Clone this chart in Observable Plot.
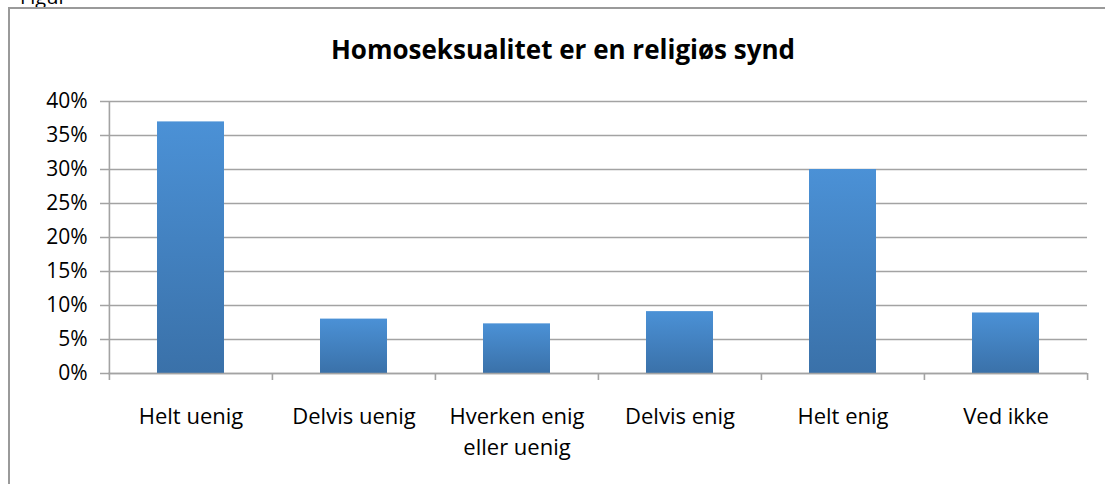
<!DOCTYPE html>
<html><head><meta charset="utf-8">
<script src="https://cdn.jsdelivr.net/npm/d3@7"></script>
<script src="https://cdn.jsdelivr.net/npm/@observablehq/plot@0.6"></script>
<style>
html,body{margin:0;padding:0;background:#fff;overflow:hidden;width:1105px;height:484px;}
#wrap{position:relative;width:1105px;height:484px;font-family:"Open Sans",Lato,sans-serif;}
#box{position:absolute;left:8px;top:7px;width:1110px;height:490px;border:2px solid #9a9a9a;box-sizing:border-box;}
#fig{position:absolute;left:20px;top:-17px;font-size:20px;color:#000;}
#title{position:absolute;left:8px;width:1110px;top:31px;text-align:center;font-weight:bold;font-size:26px;color:#000;}
#chart{position:absolute;left:0;top:0;}
</style></head>
<body><div id="wrap"><div id="fig">Figur</div><div id="box"></div><div id="title">Homoseksualitet er en religiøs synd</div><div id="chart"></div></div>
<script>
const categories = ["Helt uenig","Delvis uenig","Hverken enig\neller uenig","Delvis enig","Helt enig","Ved ikke"];
const values = [0.37, 0.08, 0.073, 0.091, 0.30, 0.089];
const yTicks = [0,0.05,0.10,0.15,0.20,0.25,0.30,0.35,0.40];
const data = categories.map((c,i)=>({cat:c, v:values[i]}));

const W=1105, H=484, mL=108, mR=18, mT=101, mB=111;
const step=(W-mL-mR)/categories.length;
const gray="#a3a3a3";

const plot = Plot.plot({
  width:W, height:H, marginLeft:mL, marginRight:mR, marginTop:mT, marginBottom:mB,
  style:{fontFamily:"'Open Sans', Lato, sans-serif", fontSize:"20px", color:"#000", background:"transparent", overflow:"visible"},
  x:{domain:categories, paddingInner:0.59, paddingOuter:0.295, label:null},
  y:{domain:[0,0.4], label:null},
  marks:[
    Plot.gridY(yTicks, {stroke:gray, strokeOpacity:1, strokeWidth:1.6, insetLeft:-8}),
    Plot.barY(data, {x:"cat", y:"v", fill:"url(#barGrad)", style:"filter:drop-shadow(1px 1px 2px rgba(0,0,0,0.25))"}),
    Plot.ruleX([categories[0]], {x:d=>d, y1:0, y2:0.4, dx:-step/2, stroke:gray, strokeWidth:1.6}),
    Plot.ruleY([0], {stroke:gray, strokeWidth:1.6}),
    Plot.ruleX(categories, {x:d=>d, y1:0, y2:0, dx:-step/2, insetBottom:-7, stroke:gray, strokeWidth:1.6}),
    Plot.ruleX([categories[categories.length-1]], {x:d=>d, y1:0, y2:0, dx:step/2, insetBottom:-7, stroke:gray, strokeWidth:1.6}),
    Plot.axisY(yTicks, {tickFormat:d3.format(".0%"), tickSize:0, tickPadding:21, fontSize:21, fill:"#000"}),
    Plot.axisX({tickSize:0, tickPadding:29, fontSize:22, fill:"#000", lineHeight:1.4})
  ]
});
const svg = d3.select(plot);
svg.append("defs").html('<linearGradient id="barGrad" x1="0" y1="0" x2="0" y2="1"><stop offset="0" stop-color="#4b91d6"/><stop offset="1" stop-color="#3a71a9"/></linearGradient>');
document.getElementById("chart").appendChild(plot);
</script>
</body></html>
